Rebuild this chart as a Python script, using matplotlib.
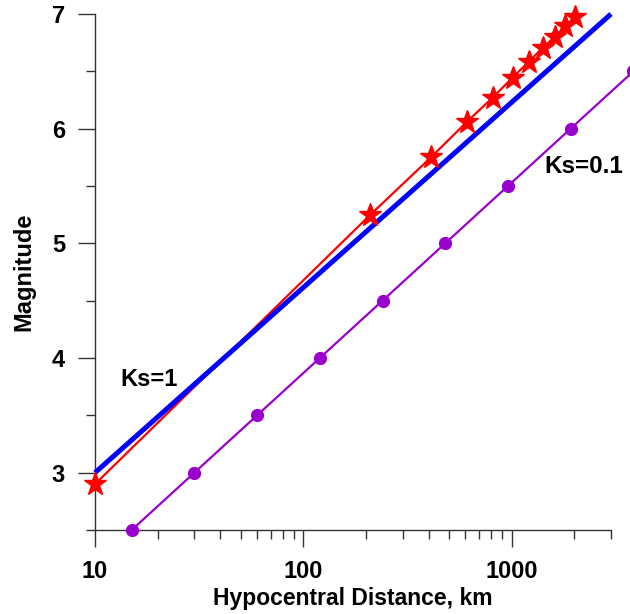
import matplotlib
matplotlib.use("Agg")
import matplotlib.pyplot as plt
from matplotlib.ticker import FixedLocator, NullFormatter, FixedFormatter

plt.rcParams['font.family'] = ['Liberation Sans', 'DejaVu Sans']
plt.rcParams['font.weight'] = 'bold'

# Data
ks1_dist = [10, 3000]
ks1_mag = [3.0, 7.0]

star_dist = [10, 210, 410, 610, 810, 1010, 1210, 1410, 1610, 1810, 2010]
star_mag = [2.90, 5.25, 5.75, 6.06, 6.27, 6.445, 6.585, 6.705, 6.80, 6.895, 6.975]

ks01_dist = [15, 30, 60, 120, 240, 480, 960, 1920, 3840]
ks01_mag = [2.5, 3.0, 3.5, 4.0, 4.5, 5.0, 5.5, 6.0, 6.5]

x_major = [10, 100, 1000]
x_major_labels = ["10", "100", "1000"]
x_minor = [20, 30, 40, 50, 60, 70, 80, 90, 200, 300, 400, 500, 600, 700, 800, 900, 2000, 3000]
y_major = [3, 4, 5, 6, 7]
y_minor = [2.5, 3.5, 4.5, 5.5, 6.5]

W, H = 630, 614
fig = plt.figure(figsize=(W / 100, H / 100), dpi=100)
ax = fig.add_axes([95 / W, 1 - 530 / H, (611 - 95) / W, (530 - 14) / H])

ax.set_xscale('log')
ax.set_xlim(10, 3000)
ax.set_ylim(2.5, 7)

ax.plot(star_dist, star_mag, color='#FF0000', lw=1.6, zorder=2, clip_on=False)
ax.plot(star_dist, star_mag, linestyle='none', marker='*', markersize=17,
        color='#FF0000', zorder=4, clip_on=False)
ax.plot(ks1_dist, ks1_mag, color='#0000FF', lw=3.6, zorder=3, clip_on=False,
        solid_capstyle='butt')
ax.plot(ks01_dist, ks01_mag, color='#9900CC', lw=1.6, marker='o', markersize=8.5,
        zorder=3, clip_on=False)

ax.text(18.2, 3.81, "Ks=1", fontsize=17, fontweight='bold', ha='center', va='center')
ax.text(2213, 5.666, "Ks=0.1", fontsize=17.5, fontweight='bold', ha='center', va='center')

for s in ['top', 'right']:
    ax.spines[s].set_visible(False)
for s in ['left', 'bottom']:
    ax.spines[s].set_linewidth(1.0)
    ax.spines[s].set_color('#333333')

ax.xaxis.set_major_locator(FixedLocator(x_major))
ax.xaxis.set_major_formatter(FixedFormatter(x_major_labels))
ax.xaxis.set_minor_locator(FixedLocator(x_minor))
ax.xaxis.set_minor_formatter(NullFormatter())
ax.yaxis.set_major_locator(FixedLocator(y_major))
ax.yaxis.set_minor_locator(FixedLocator(y_minor))
ax.yaxis.set_minor_formatter(NullFormatter())

ax.tick_params(axis='both', which='major', direction='out', length=12.5, width=1.0,
               color='#333333', labelsize=17, pad=9)
ax.tick_params(axis='both', which='minor', direction='out', length=6.5, width=1.0,
               color='#333333')
ax.tick_params(axis='y', which='major', pad=9)
for lab in ax.get_xticklabels() + ax.get_yticklabels():
    lab.set_fontweight('bold')

ax.set_xlabel("Hypocentral Distance, km", fontsize=16.5, fontweight='bold', labelpad=3)
ax.set_ylabel("Magnitude", fontsize=17, fontweight='bold', labelpad=12)

fig.savefig("out.png", dpi=100)
